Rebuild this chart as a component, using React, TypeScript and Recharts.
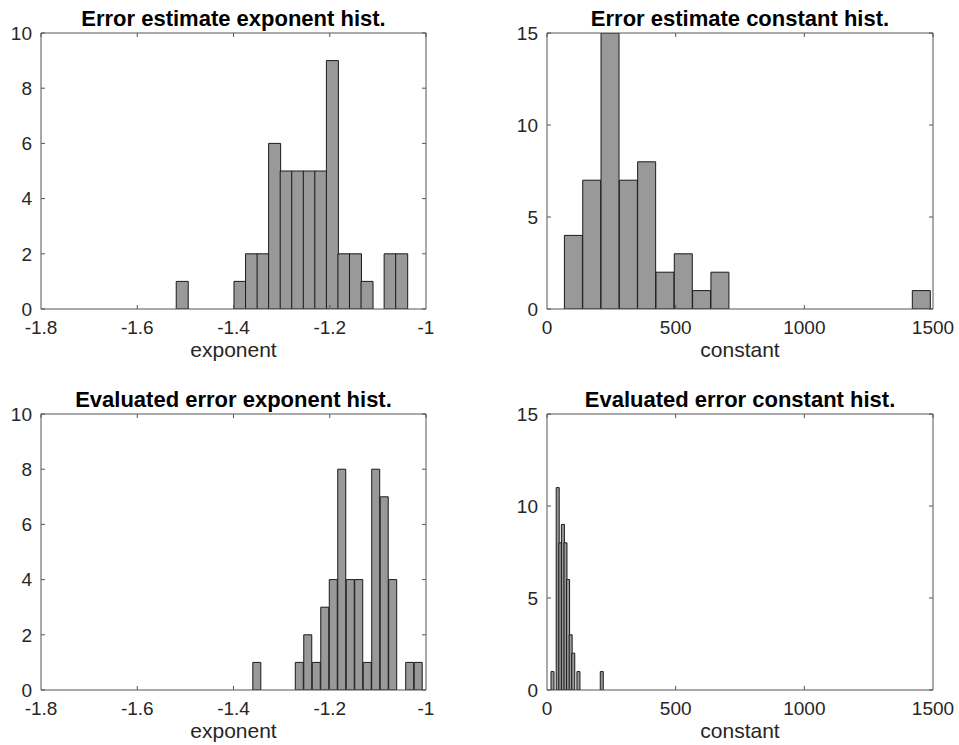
import React from 'react';
import { BarChart, Bar, XAxis, YAxis, Label } from 'recharts';

// Panel 1: Error estimate exponent histogram
const estExpCenters = [-1.507, -1.483, -1.459, -1.435, -1.411, -1.387, -1.363, -1.339, -1.315, -1.291, -1.267, -1.243, -1.219, -1.195, -1.171, -1.147, -1.123, -1.099, -1.075, -1.051];
const estExpCounts = [1, 0, 0, 0, 0, 1, 2, 2, 6, 5, 5, 5, 5, 9, 2, 2, 1, 0, 2, 2];

// Panel 2: Error estimate constant histogram
const estConstCenters = [103.2, 174.4, 245.5, 316.7, 387.8, 459.0, 530.2, 601.3, 672.5, 743.6, 814.8, 886.0, 957.1, 1028.3, 1099.4, 1170.6, 1241.8, 1312.9, 1384.1, 1455.2];
const estConstCounts = [4, 7, 15, 7, 8, 2, 3, 1, 2, 0, 0, 0, 0, 0, 0, 0, 0, 0, 0, 1];

// Panel 3: Evaluated error exponent histogram
const evalExpCenters = [-1.3511, -1.3334, -1.3158, -1.2981, -1.2805, -1.2628, -1.2452, -1.2275, -1.2099, -1.1922, -1.1746, -1.1569, -1.1393, -1.1216, -1.1040, -1.0863, -1.0687, -1.0510, -1.0334, -1.0157];
const evalExpCounts = [1, 0, 0, 0, 0, 1, 2, 1, 3, 4, 8, 4, 4, 1, 8, 7, 4, 0, 1, 1];

// Panel 4: Evaluated error constant histogram
const evalConstCenters = [20.6, 30.7, 40.8, 50.8, 60.9, 71.0, 81.1, 91.1, 101.2, 111.3, 121.3, 131.4, 141.5, 151.6, 161.6, 171.7, 181.8, 191.8, 201.9, 212.0];
const evalConstCounts = [1, 0, 11, 8, 9, 8, 6, 3, 2, 0, 1, 0, 0, 0, 0, 0, 0, 0, 0, 1];

const expXTicks = [-1.8, -1.6, -1.4, -1.2, -1];
const expYTicks = [0, 2, 4, 6, 8, 10];
const constXTicks = [0, 500, 1000, 1500];
const constYTicks = [0, 5, 10, 15];

const FONT = '"Liberation Sans", Arial, Helvetica, sans-serif';
const AX = '#555555';
const TXT = '#262626';
const TL = 4; // tick length (inward)
const XM = 11; // gap axis -> x tick label top
const YM = 9; // gap axis -> y tick label right

function BottomTick(props: any) {
  const { x, y, payload } = props;
  const ay = y - XM;
  const skipLine = payload.value === props.xDomainMin || payload.value === props.xDomainMax;
  return (
    <g>
      {!skipLine && <line x1={x} y1={ay} x2={x} y2={ay - TL} stroke={AX} strokeWidth={1} />}
      <text x={x} y={y} dy="0.72em" textAnchor="middle" fill={TXT} fontSize={19} fontFamily={FONT}>
        {String(payload.value)}
      </text>
    </g>
  );
}

function LeftTick(props: any) {
  const { x, y, payload } = props;
  const ax = x + YM;
  return (
    <g>
      <line x1={ax} y1={y} x2={ax + TL} y2={y} stroke={AX} strokeWidth={1} />
      <text x={x} y={y} dy="0.36em" textAnchor="end" fill={TXT} fontSize={19} fontFamily={FONT}>
        {String(payload.value)}
      </text>
    </g>
  );
}

function TopTick(props: any) {
  const { x, y } = props;
  return <line x1={x} y1={y} x2={x} y2={y + TL} stroke={AX} strokeWidth={1} />;
}

function RightTick(props: any) {
  const { x, y } = props;
  return <line x1={x} y1={y} x2={x - TL} y2={y} stroke={AX} strokeWidth={1} />;
}

type PanelProps = {
  title: string;
  xLabel: string;
  centers: number[];
  counts: number[];
  xDomain: [number, number];
  xTicks: number[];
  yDomain: [number, number];
  yTicks: number[];
  left: number;
  top: number;
  width: number;
  yw: number;
  mr: number;
};

function Panel(p: PanelProps) {
  const data = p.centers.map((c, i) => ({ x: c, count: p.counts[i] }));
  return (
    <div style={{ position: 'absolute', left: p.left, top: p.top }}>
      <BarChart
        width={p.width}
        height={372}
        data={data}
        margin={{ top: 32, right: p.mr - 1, bottom: 33, left: 0 }}
        barCategoryGap={0}
        barGap={0}
        style={{ fontFamily: FONT }}
      >
        <XAxis
          xAxisId="b"
          dataKey="x"
          type="number"
          domain={p.xDomain}
          ticks={p.xTicks}
          allowDataOverflow
          interval={0}
          height={30}
          tickSize={0}
          tickMargin={XM}
          axisLine={{ stroke: AX }}
          tickLine={false}
          tick={<BottomTick xDomainMin={p.xDomain[0]} xDomainMax={p.xDomain[1]} />}
        >
          <Label value={p.xLabel} position="bottom" offset={3} fontSize={21} fill={TXT} fontFamily={FONT} />
        </XAxis>
        <XAxis
          xAxisId="t"
          dataKey="x"
          orientation="top"
          type="number"
          domain={p.xDomain}
          ticks={p.xTicks}
          allowDataOverflow
          interval={0}
          height={1}
          tickSize={0}
          tickMargin={0}
          axisLine={{ stroke: AX }}
          tickLine={false}
          tick={<TopTick />}
        >
          <Label value={p.title} position="top" offset={6} fontSize={22} fontWeight="bold" fill="#000000" fontFamily={FONT} />
        </XAxis>
        <YAxis
          yAxisId="l"
          type="number"
          domain={p.yDomain}
          ticks={p.yTicks}
          allowDataOverflow
          interval={0}
          width={p.yw}
          tickSize={0}
          tickMargin={YM}
          axisLine={{ stroke: AX }}
          tickLine={false}
          tick={<LeftTick />}
        />
        <YAxis
          yAxisId="r"
          orientation="right"
          type="number"
          domain={p.yDomain}
          ticks={p.yTicks}
          allowDataOverflow
          interval={0}
          width={1}
          tickSize={0}
          tickMargin={0}
          axisLine={{ stroke: AX }}
          tickLine={false}
          tick={<RightTick />}
        />
        <Bar
          xAxisId="b"
          yAxisId="l"
          dataKey="count"
          fill="#999999"
          stroke="#1a1a1a"
          strokeWidth={1}
          isAnimationActive={false}
        />
        <Bar
          xAxisId="t"
          yAxisId="r"
          dataKey="count"
          fill="none"
          stroke="none"
          isAnimationActive={false}
          legendType="none"
        />
      </BarChart>
    </div>
  );
}

export default function App() {
  return (
    <div style={{ position: 'absolute', left: 0, top: 0, width: 959, height: 745, background: '#ffffff', fontFamily: FONT }}>
      <Panel title="Error estimate exponent hist." xLabel="exponent" centers={estExpCenters} counts={estExpCounts}
        xDomain={[-1.8, -1]} xTicks={expXTicks} yDomain={[0, 10]} yTicks={expYTicks} left={0} top={0} width={480} yw={41} mr={54} />
      <Panel title="Error estimate constant hist." xLabel="constant" centers={estConstCenters} counts={estConstCounts}
        xDomain={[0, 1500]} xTicks={constXTicks} yDomain={[0, 15]} yTicks={constYTicks} left={480} top={0} width={479} yw={67} mr={26} />
      <Panel title="Evaluated error exponent hist." xLabel="exponent" centers={evalExpCenters} counts={evalExpCounts}
        xDomain={[-1.8, -1]} xTicks={expXTicks} yDomain={[0, 10]} yTicks={expYTicks} left={0} top={381} width={480} yw={41} mr={54} />
      <Panel title="Evaluated error constant hist." xLabel="constant" centers={evalConstCenters} counts={evalConstCounts}
        xDomain={[0, 1500]} xTicks={constXTicks} yDomain={[0, 15]} yTicks={constYTicks} left={480} top={381} width={479} yw={67} mr={26} />
    </div>
  );
}
